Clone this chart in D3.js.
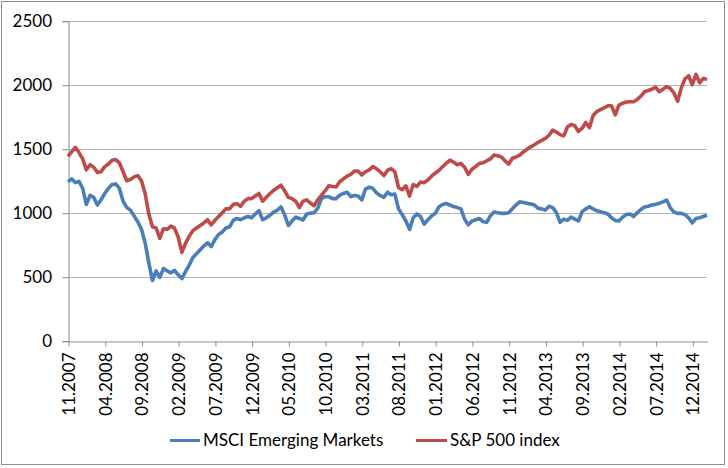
<!DOCTYPE html>
<html>
<head>
<meta charset="utf-8">
<script src="https://cdn.jsdelivr.net/npm/d3@7"></script>
<style>
  html, body { margin: 0; padding: 0; background: #fff; }
  svg { display: block; }
  text { font-family: Lato, "Open Sans", sans-serif; fill: #000; }
</style>
</head>
<body>
<svg id="chart" width="728" height="468"></svg>
<script>
// Tick labels of the category axis (one every 10 half-month samples = 5 months)
const tickLabels = ["11.2007","04.2008","09.2008","02.2009","07.2009","12.2009","05.2010","10.2010","03.2011","08.2011","01.2012","06.2012","11.2012","04.2013","09.2013","02.2014","07.2014","12.2014"];
const tickEvery = 10;

// Y axis ticks
const yTicks = [0, 500, 1000, 1500, 2000, 2500];

// Series names
const seriesNames = ["MSCI Emerging Markets", "S&P 500 index"];

// MSCI Emerging Markets, semi-monthly samples from 11.2007 to 01.2015
const msci = [
1240,1265,1235,1245,1190,1065,1135,1120,1060,1100,
1150,1190,1220,1225,1190,1090,1040,1020,975,930,
870,765,610,470,545,495,565,545,530,550,
515,485,540,590,650,680,710,740,765,735,
790,830,850,880,890,940,955,945,960,970,
960,990,1015,945,960,980,1005,1020,1045,982,
900,935,965,955,943,990,995,1000,1034,1110,
1125,1125,1110,1110,1138,1150,1160,1125,1135,1130,
1100,1185,1200,1190,1155,1135,1120,1160,1140,1145,
1030,985,935,870,960,990,970,910,945,975,
995,1045,1065,1072,1060,1048,1040,1030,950,905,
935,945,955,930,925,975,1005,1000,995,995,
1000,1030,1060,1085,1080,1073,1068,1060,1034,1030,
1021,1050,1040,1000,925,950,940,965,950,935,
1008,1030,1047,1030,1015,1008,1000,990,960,940,
935,965,985,990,970,1000,1025,1045,1050,1060,
1065,1073,1085,1099,1040,1005,995,995,985,960,
920,955,960,970,980
];

// S&P 500 index, same sampling
const sp500 = [
1440,1475,1510,1470,1420,1335,1375,1355,1315,1320,
1360,1380,1410,1415,1390,1320,1250,1260,1280,1290,
1250,1150,990,890,880,800,875,870,895,880,
810,690,760,815,860,880,900,920,945,905,
940,970,1000,1030,1030,1065,1070,1050,1090,1110,
1110,1130,1150,1090,1120,1150,1175,1195,1215,1170,
1120,1110,1090,1040,1090,1100,1075,1055,1100,1135,
1170,1210,1205,1200,1242,1265,1285,1300,1325,1325,
1295,1320,1335,1360,1345,1320,1290,1330,1345,1320,
1195,1180,1210,1130,1220,1205,1240,1235,1255,1285,
1310,1330,1360,1385,1410,1395,1375,1385,1355,1300,
1340,1360,1385,1390,1405,1420,1450,1445,1435,1405,
1380,1425,1435,1450,1475,1495,1515,1530,1550,1565,
1580,1605,1645,1630,1610,1600,1670,1690,1680,1635,
1660,1705,1665,1760,1790,1805,1820,1835,1835,1765,
1840,1855,1865,1867,1867,1885,1910,1945,1955,1965,
1980,1945,1965,1985,1972,1935,1870,1975,2045,2070,
2000,2080,2015,2050,2040
];

const colors = ["#4a7ebb", "#be4b48"];

const svg = d3.select("#chart");
const W = 728, H = 468;
const plot = { left: 68, right: 707, top: 20.7, bottom: 340.7 };

svg.append("rect").attr("width", W).attr("height", H).attr("fill", "#fff");
svg.append("rect").attr("x", 1.5).attr("y", 1.5).attr("width", 723).attr("height", 463)
  .attr("fill", "none").attr("stroke", "#8c8c8c").attr("stroke-width", 1);

const x = d3.scaleLinear().domain([0, msci.length - 1]).range([plot.left, plot.right]);
const y = d3.scaleLinear().domain([0, 2500]).range([plot.bottom, plot.top]);

// gridlines
svg.append("g").selectAll("line").data(yTicks.filter(d => d > 0)).join("line")
  .attr("x1", plot.left).attr("x2", plot.right)
  .attr("y1", d => Math.round(y(d)) + 0.5).attr("y2", d => Math.round(y(d)) + 0.5)
  .attr("stroke", "#b3b3b3").attr("stroke-width", 1);

// Y axis
const yAxis = d3.axisLeft(y).tickValues(yTicks).tickSize(6).tickFormat(d3.format("d"));
const gy = svg.append("g").attr("transform", `translate(${plot.left + 0.5},0.5)`).call(yAxis);
gy.select(".domain").attr("stroke", "#8c8c8c");
gy.selectAll(".tick line").attr("stroke", "#8c8c8c");
gy.selectAll(".tick text").attr("font-size", 17).attr("font-family", "Lato").attr("fill", "#000")
  .attr("x", -16.5);

// X axis
const xTickVals = tickLabels.map((_, i) => i * tickEvery);
const xAxis = d3.axisBottom(x).tickValues(xTickVals).tickSize(5).tickSizeOuter(0)
  .tickFormat((d, i) => tickLabels[i]);
const gx = svg.append("g").attr("transform", `translate(0.5,${Math.round(plot.bottom) + 0.5})`).call(xAxis);
gx.select(".domain").attr("stroke", "#8c8c8c");
gx.selectAll(".tick line").attr("stroke", "#8c8c8c");
gx.selectAll(".tick text")
  .attr("font-size", 17).attr("font-family", "Lato").attr("fill", "#000")
  .attr("text-anchor", "end")
  .attr("transform", "rotate(-90)")
  .attr("x", -11).attr("y", 0).attr("dy", "0.35em");

// lines
const line = d3.line().x((d, i) => x(i)).y(d => y(d));
[msci, sp500].forEach((s, k) => {
  svg.append("path").datum(s).attr("d", line)
    .attr("fill", "none").attr("stroke", colors[k]).attr("stroke-width", 3.6)
    .attr("stroke-linejoin", "round");
});

// legend
const legendItems = [
  { name: seriesNames[0], color: colors[0], x1: 170, x2: 200 },
  { name: seriesNames[1], color: colors[1], x1: 416, x2: 447 }
];
const lg = svg.append("g");
legendItems.forEach(it => {
  lg.append("line").attr("x1", it.x1).attr("x2", it.x2).attr("y1", 440.5).attr("y2", 440.5)
    .attr("stroke", it.color).attr("stroke-width", 3);
  lg.append("text").attr("x", it.x2 + 3).attr("y", 440.5).attr("dy", "0.35em")
    .attr("font-size", 17).text(it.name);
});
</script>
</body>
</html>
